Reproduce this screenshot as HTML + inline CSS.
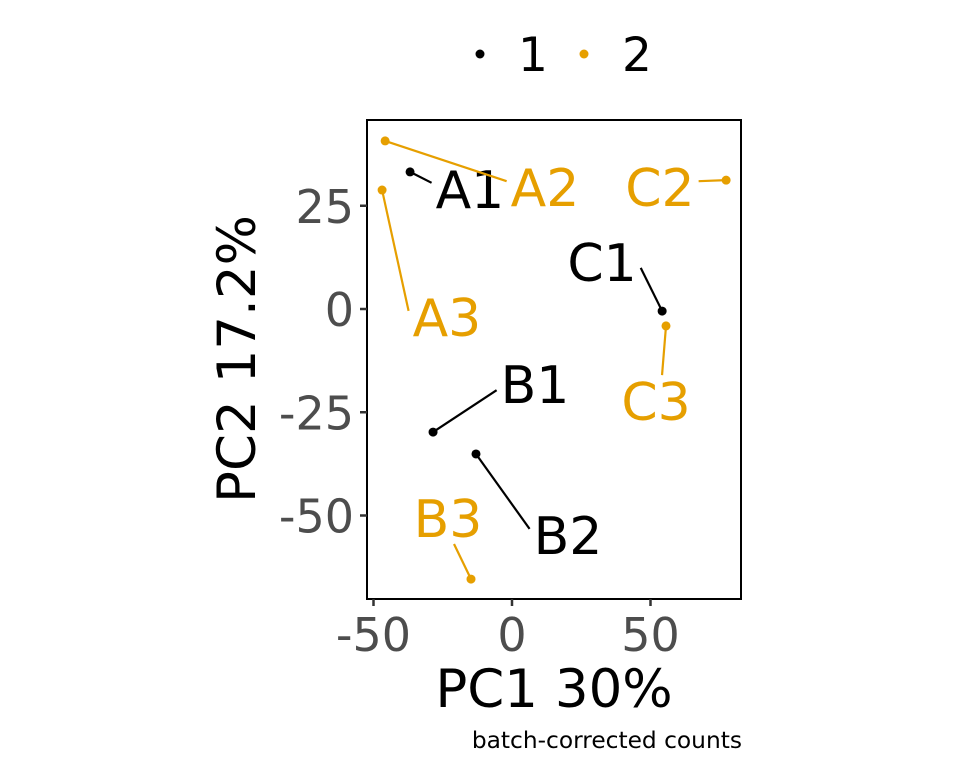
<!DOCTYPE html>
<html><head><meta charset="utf-8"><style>
body{margin:0;background:#fff}
svg text{font-family:"DejaVu Sans","Liberation Sans",sans-serif}
</style></head><body>
<svg id="chart" width="960" height="768" xmlns="http://www.w3.org/2000/svg"></svg>
<script>
const names=["A1","A2","A3","B1","B2","B3","C1","C2","C3"];
const batch=[1,2,2,1,1,2,1,2,2];
const pc1=[-36.8,-45.8,-46.9,-28.5,-13,-14.8,54.2,77.3,55.6];
const pc2=[33.2,40.7,28.8,-29.8,-35.1,-65.4,-0.5,31.2,-4.1];
const labelX=[-15.2,11.9,-23.5,8.3,20.2,-23.1,32.5,53.4,52];
const labelY=[29.1,29.5,-1.9,-18.2,-54.7,-50.6,11.4,29.5,-22.3];
const xTicks=[-50,0,50];
const yTicks=[25,0,-25,-50];
const colors={1:"#000000",2:"#E69F00"};
const L=367,R=741,T=120,B=599;
const xs=v=>512+v*2.77;
const ys=v=>309-v*4.13;
const svg=document.getElementById('chart');
const NS="http://www.w3.org/2000/svg";
function mk(tag,attrs,name,txt){const e=document.createElementNS(NS,tag);for(const k in attrs)e.setAttribute(k,attrs[k]);


if(txt!==undefined)e.textContent=txt;svg.appendChild(e);return e;}
const clamp=(v,a,b)=>Math.max(a,Math.min(b,v));
mk('rect',{x:L,y:T,width:R-L,height:B-T,fill:'none',stroke:'#000','stroke-width':2},'plot-panel');
xTicks.forEach(t=>{mk('line',{x1:xs(t),x2:xs(t),y1:B,y2:B+7,stroke:'#333','stroke-width':2.5},'x-tick');
mk('text',{x:xs(t),y:B+52,'font-size':46,fill:'#4d4d4d','text-anchor':'middle'},'x-tick-label',String(t));});
yTicks.forEach(t=>{mk('line',{x1:L-7,x2:L,y1:ys(t),y2:ys(t),stroke:'#333','stroke-width':2.5},'y-tick');
mk('text',{x:354,y:ys(t)+17,'font-size':46,fill:'#4d4d4d','text-anchor':'end'},'y-tick-label',String(t));});
mk('text',{x:554,y:707,'font-size':53,'text-anchor':'middle'},'x-axis-title','PC1 30%');
mk('text',{x:0,y:0,'font-size':53,'text-anchor':'middle',transform:'translate(255,359) rotate(-90)'},'y-axis-title','PC2 17.2%');
names.forEach((n,i)=>{const c=colors[batch[i]];
const px=xs(pc1[i]),py=ys(pc2[i]),lx=xs(labelX[i]),ly=ys(labelY[i]);
const seg=mk('line',{stroke:c,'stroke-width':2.2},'label-segment');
mk('circle',{cx:px,cy:py,r:4.5,fill:c},'point-'+n.toLowerCase());
const t=mk('text',{x:lx,y:ly+19,'font-size':52,fill:c,'text-anchor':'middle'},'point-label-'+n.toLowerCase(),n);
const hw=t.getComputedTextLength()/2+4, hh=26;
let ex,ey;
if(Math.abs(px-lx)>hw){ex=lx+Math.sign(px-lx)*hw;ey=clamp(py,ly-6,ly+6);}
else if(Math.abs(py-ly)>hh){ex=clamp(px,lx-6,lx+6);ey=ly+Math.sign(py-ly)*hh;}
if(ex!==undefined){seg.setAttribute('x1',px);seg.setAttribute('y1',py);seg.setAttribute('x2',ex);seg.setAttribute('y2',ey);}
else seg.remove();});
mk('circle',{cx:480,cy:54,r:4.5,fill:'#000'},'legend-key-1');
mk('text',{x:518,y:71,'font-size':47},'legend-label-1','1');
mk('circle',{cx:584,cy:54,r:4.5,fill:'#E69F00'},'legend-key-2');
mk('text',{x:622,y:71,'font-size':47},'legend-label-2','2');
mk('text',{x:742,y:748,'font-size':23.3,'text-anchor':'end'},'caption','batch-corrected counts');
</script>
</body></html>
